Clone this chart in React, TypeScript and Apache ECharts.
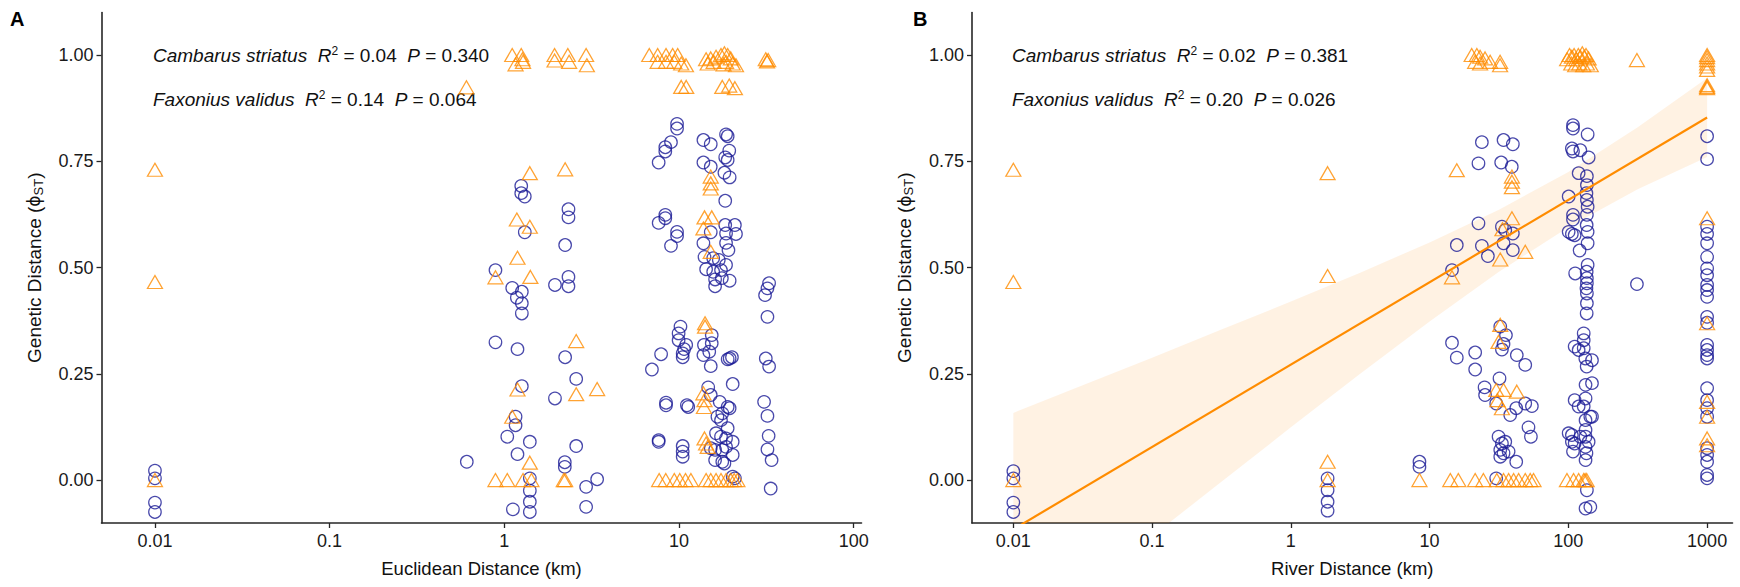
import React, { useEffect, useRef } from "react";
import * as echarts from "echarts";

// ---- Euclidean distance panel (A): [distance km, phiST] ----
const euclidCambarus: [number, number][] = [
  [0.01, 0.022], [0.01, 0.004], [0.01, -0.053], [0.01, -0.075],
  [0.61, 0.043],
  [1.25, 0.692], [1.25, 0.675], [1.31, 0.667], [2.33, 0.637], [2.33, 0.618],
  [1.31, 0.583], [2.23, 0.553], [0.89, 0.494], [1.95, 0.459], [2.33, 0.478],
  [2.33, 0.456], [1.11, 0.452], [1.26, 0.443], [1.18, 0.429], [1.26, 0.416],
  [1.26, 0.392], [0.89, 0.324], [1.19, 0.308], [2.23, 0.289], [2.58, 0.238],
  [1.26, 0.221], [1.95, 0.192], [1.16, 0.149], [1.16, 0.129], [1.04, 0.102],
  [1.4, 0.09], [2.58, 0.08], [1.19, 0.061], [2.22, 0.042], [2.22, 0.031],
  [1.4, 0.004], [3.4, 0.002], [2.94, -0.016], [1.4, -0.025], [1.4, -0.051],
  [1.12, -0.069], [1.4, -0.075], [2.94, -0.063],
  [9.75, 0.838], [9.75, 0.827], [9.0, 0.795], [8.35, 0.783], [8.35, 0.773],
  [7.65, 0.747], [13.8, 0.8], [15.2, 0.79], [18.6, 0.813], [19.0, 0.809],
  [19.4, 0.775], [18.4, 0.759], [19.0, 0.753], [13.8, 0.747], [15.2, 0.737],
  [18.2, 0.723], [19.5, 0.712], [18.4, 0.657], [8.35, 0.624], [8.35, 0.616],
  [7.65, 0.605], [9.75, 0.584], [9.75, 0.574], [9.0, 0.551], [15.2, 0.583],
  [18.4, 0.6], [20.9, 0.6], [18.6, 0.58], [21.2, 0.579], [18.6, 0.558],
  [19.2, 0.541], [13.8, 0.557], [14.0, 0.525], [15.7, 0.522], [16.9, 0.518],
  [14.3, 0.496], [15.7, 0.49], [17.4, 0.494], [18.6, 0.506], [16.1, 0.472],
  [17.6, 0.475], [19.5, 0.469], [16.1, 0.456], [32.8, 0.463], [32.1, 0.451],
  [31.1, 0.435], [32.1, 0.384], [10.2, 0.361], [9.95, 0.345], [9.95, 0.329],
  [11.0, 0.318], [10.7, 0.308], [10.5, 0.298], [10.5, 0.289], [7.9, 0.296],
  [7.0, 0.26], [15.4, 0.341], [15.4, 0.322], [13.9, 0.318], [14.9, 0.302],
  [13.8, 0.294], [15.2, 0.268], [19.0, 0.284], [19.5, 0.286], [20.1, 0.289],
  [31.4, 0.286], [32.8, 0.267], [20.3, 0.226], [14.7, 0.218], [15.2, 0.2],
  [17.1, 0.184], [19.0, 0.172], [19.5, 0.169], [16.6, 0.149], [17.7, 0.157],
  [17.4, 0.141], [19.0, 0.122], [8.43, 0.182], [8.43, 0.176], [11.1, 0.176],
  [11.3, 0.172], [30.7, 0.184], [32.1, 0.151], [7.65, 0.094], [7.65, 0.09],
  [10.5, 0.08], [10.5, 0.067], [10.5, 0.055], [16.3, 0.11], [17.4, 0.102],
  [18.6, 0.098], [20.3, 0.09], [16.1, 0.071], [17.7, 0.071], [18.6, 0.078],
  [20.3, 0.059], [16.1, 0.047], [17.7, 0.043], [18.2, 0.039], [15.2, 0.075],
  [32.6, 0.104], [32.1, 0.072], [33.9, 0.047], [20.3, 0.008], [20.9, 0.004],
  [33.5, -0.02],
];

const euclidFaxonius: [number, number][] = [
  [0.01, 0.73], [0.01, 0.466], [0.01, 0.0], [0.607, 0.924],
  [1.11, 1.0], [1.25, 1.0], [1.27, 0.99], [1.16, 0.978], [1.28, 0.984],
  [1.94, 1.0], [2.31, 1.0], [2.94, 1.0], [1.94, 0.987], [2.35, 0.984], [2.97, 0.976],
  [1.4, 0.722], [2.23, 0.731], [1.18, 0.613], [1.4, 0.596], [1.19, 0.523],
  [0.89, 0.477], [1.41, 0.478], [2.58, 0.327], [1.19, 0.213], [2.58, 0.202],
  [3.4, 0.214], [1.11, 0.149], [1.4, 0.041],
  [0.89, 0], [1.04, 0], [1.28, 0], [1.43, 0], [2.19, 0], [2.23, 0],
  [6.76, 1.0], [7.55, 1.0], [8.43, 1.0], [9.2, 1.0], [9.83, 1.0], [7.55, 0.984],
  [8.43, 0.984], [9.4, 0.984], [10.3, 0.98], [10.96, 0.976],
  [14.3, 0.99], [15.2, 0.992], [16.3, 0.996], [17.4, 1.0], [18.2, 1.004],
  [19.0, 1.0], [19.8, 0.992], [18.6, 0.984], [20.3, 0.98], [21.2, 0.976],
  [18.0, 0.978], [15.8, 0.984], [14.6, 0.98],
  [31.4, 0.99], [32.4, 0.988], [31.9, 0.985],
  [10.3, 0.925], [11.0, 0.925], [17.7, 0.925], [19.4, 0.928], [20.9, 0.922],
  [15.2, 0.714], [15.2, 0.698], [15.2, 0.686], [14.0, 0.618], [15.4, 0.618],
  [13.8, 0.592], [15.2, 0.537], [14.1, 0.369], [14.1, 0.361], [13.8, 0.204],
  [14.0, 0.188], [13.9, 0.172], [14.0, 0.098], [14.3, 0.086], [14.6, 0.078],
  [7.7, 0], [8.4, 0], [9.4, 0], [10.1, 0], [10.9, 0], [11.7, 0], [14.3, 0],
  [15.2, 0], [16.3, 0], [17.4, 0], [18.6, 0], [19.8, 0], [20.7, 0], [21.6, 0],
];

// ---- River distance panel (B): [distance km, phiST] ----
const riverCambarus: [number, number][] = [
  [0.01, 0.021], [0.01, 0.004], [0.01, -0.053], [0.01, -0.075],
  [1.84, 0.004], [1.84, -0.024], [1.84, -0.051], [1.84, -0.072],
  [8.45, 0.043], [8.45, 0.031],
  [23.8, 0.795], [34.1, 0.8], [39.8, 0.79], [22.5, 0.745], [32.8, 0.747],
  [39.1, 0.737], [22.5, 0.604], [33.2, 0.596], [35.1, 0.588], [39.8, 0.58],
  [15.7, 0.553], [23.8, 0.551], [26.3, 0.527], [34.1, 0.557], [39.8, 0.541],
  [14.5, 0.494], [14.5, 0.323], [15.7, 0.288], [21.3, 0.3], [21.3, 0.26],
  [32.3, 0.361], [35.5, 0.341], [34.1, 0.32], [33.2, 0.307], [42.5, 0.294],
  [48.9, 0.271], [31.9, 0.239], [24.9, 0.218], [25.1, 0.2], [30.2, 0.18],
  [38.1, 0.153], [42.1, 0.169], [48.9, 0.18], [54.6, 0.174], [51.6, 0.124],
  [53.7, 0.102], [31.4, 0.102], [33.2, 0.086], [35.1, 0.09], [32.3, 0.071],
  [34.1, 0.063], [37.1, 0.067], [32.3, 0.055], [42.1, 0.043], [30.2, 0.004],
  [108, 0.835], [108, 0.827], [106, 0.78], [108, 0.773], [122, 0.776],
  [118.6, 0.722], [100.5, 0.667], [108, 0.624], [108, 0.613], [100.5, 0.584],
  [106, 0.579], [111, 0.576], [120.5, 0.54], [112, 0.486], [111, 0.314],
  [118.6, 0.306], [111, 0.188], [118.6, 0.173], [100.5, 0.11], [106, 0.106],
  [111, 0.086], [108, 0.067], [122, 0.102], [106, 0.09],
  [137.7, 0.813], [140, 0.759], [136, 0.715], [136, 0.694], [135, 0.675],
  [136, 0.659], [137.7, 0.643], [136, 0.624], [135.5, 0.6], [137.7, 0.584],
  [137.7, 0.557], [137.7, 0.506], [135.5, 0.49], [136, 0.475], [136, 0.463],
  [135, 0.451], [136, 0.439], [136, 0.416], [135.5, 0.392], [129, 0.345],
  [129, 0.329], [129, 0.31], [132.5, 0.286], [148, 0.282], [135.5, 0.267],
  [148, 0.228], [133, 0.224], [133, 0.192], [129, 0.173], [144, 0.149],
  [148, 0.149], [133, 0.141], [133, 0.118], [133, 0.102], [140, 0.09],
  [133, 0.078], [135, 0.063], [133, 0.047], [136, -0.024], [133, -0.067],
  [144, -0.063],
  [312, 0.461],
  [1000, 0.809], [1000, 0.755], [1000, 0.596], [1000, 0.579], [1000, 0.557],
  [1000, 0.525], [1000, 0.498], [1000, 0.482], [1000, 0.459], [1000, 0.447],
  [1000, 0.431], [1000, 0.384], [1000, 0.37], [1000, 0.318], [1000, 0.306],
  [1000, 0.294], [1000, 0.286], [1000, 0.216], [1000, 0.188], [1000, 0.169],
  [1000, 0.149], [1000, 0.075], [1000, 0.059], [1000, 0.043], [1000, 0.012],
  [1000, 0.004],
];

const riverFaxonius: [number, number][] = [
  [0.01, 0.73], [0.01, 0.466], [0.01, 0.0],
  [1.84, 0.722], [1.84, 0.48], [1.84, 0.043], [1.84, 0.0], [8.45, 0],
  [20.1, 1.0], [21.9, 1.0], [23.1, 0.996], [25.1, 0.992], [21.3, 0.984],
  [23.1, 0.98], [27.3, 0.984], [32.2, 0.984], [32.2, 0.976],
  [15.7, 0.729], [39.2, 0.714], [39.2, 0.702], [39.2, 0.689], [39.2, 0.616],
  [33.5, 0.59], [48.9, 0.537], [32.3, 0.519], [14.5, 0.477], [32.3, 0.365],
  [31.4, 0.325], [30.2, 0.212], [34.1, 0.212], [42.5, 0.208], [30.8, 0.188],
  [33.2, 0.169],
  [14.1, 0], [16.1, 0], [21.3, 0], [24.4, 0], [30.5, 0], [34.1, 0], [37.1, 0],
  [40.3, 0], [43.8, 0], [48.9, 0], [53.1, 0], [56.1, 0],
  [97.7, 0], [109, 0], [118.6, 0], [129, 0], [132, 0], [135.5, 0],
  [98, 0.99], [102, 1.0], [106, 0.996], [110, 1.0], [114, 0.99], [118, 1.0],
  [122, 0.996], [126, 1.004], [130, 0.996], [134, 1.0], [140, 0.992],
  [105, 0.98], [112, 0.976], [120, 0.98], [128, 0.976], [136, 0.98], [145, 0.976],
  [312, 0.988],
  [1000, 1.0], [1000, 0.995], [1000, 0.988], [1000, 0.98], [1000, 0.973],
  [1000, 0.965], [1000, 0.929], [1000, 0.925], [1000, 0.922], [1000, 0.616],
  [1000, 0.369], [1000, 0.184], [1000, 0.149], [1000, 0.098], [1000, 0.082],
];

// Faxonius validus fit against river distance, with its confidence band
const fitX = [0.01, 1000];
const fitY = [-0.116, 0.853];
const bandX = [0.01, 0.0316, 0.1, 0.316, 1, 3.16, 10, 31.6, 100, 316, 1000];
const bandUpper = [0.158, 0.223, 0.288, 0.354, 0.42, 0.488, 0.559, 0.636, 0.725, 0.83, 0.946];
const bandLower = [-0.39, -0.261, -0.132, -0.004, 0.124, 0.25, 0.373, 0.49, 0.595, 0.684, 0.76];

// Axis ticks
const euclidTicks = [0.01, 0.1, 1, 10, 100];
const euclidTickLabels = ["0.01", "0.1", "1", "10", "100"];
const riverTicks = [0.01, 0.1, 1, 10, 100, 1000];
const riverTickLabels = ["0.01", "0.1", "1", "10", "100", "1000"];
const yTicks = [0, 0.25, 0.5, 0.75, 1];
const yTickLabels = ["0.00", "0.25", "0.50", "0.75", "1.00"];

// Model statistics printed in each panel
const statsEuclid = [
  { species: "Cambarus striatus", r2: "0.04", p: "0.340" },
  { species: "Faxonius validus", r2: "0.14", p: "0.064" },
];
const statsRiver = [
  { species: "Cambarus striatus", r2: "0.02", p: "0.381" },
  { species: "Faxonius validus", r2: "0.20", p: "0.026" },
];

const ORANGE = "#FF8C00";
const NAVY = "#1b1b96";
const FONT = '"Liberation Sans", Arial, Helvetica, sans-serif';
const AXIS_COLOR = "#262626";

const labelFor = (ticks: number[], labels: string[]) => (v: number) => {
  const i = ticks.findIndex((t) => Math.abs(Math.log10(t) - Math.log10(v)) < 1e-6);
  return i >= 0 ? labels[i] : "";
};

const yLabel = (v: number) => {
  const i = yTicks.findIndex((t) => Math.abs(t - v) < 1e-6);
  return i >= 0 ? yTickLabels[i] : "";
};

function makeXAxis(gridIndex: number, min: number, max: number, ticks: number[], labels: string[], name: string) {
  return {
    type: "log",
    logBase: 10,
    gridIndex,
    min,
    max,
    name,
    nameLocation: "middle",
    nameGap: 36,
    nameTextStyle: { fontFamily: FONT, fontSize: 18.5, color: "#111" },
    axisLine: { onZero: false, lineStyle: { color: AXIS_COLOR, width: 1.6 } },
    axisTick: { customValues: ticks, length: 5, lineStyle: { color: AXIS_COLOR, width: 1.3 } },
    axisLabel: {
      customValues: ticks,
      formatter: labelFor(ticks, labels),
      fontFamily: FONT,
      fontSize: 18,
      color: "#1a1a1a",
      margin: 9,
    },
    splitLine: { show: false },
    minorTick: { show: false },
  };
}

function makeYAxis(gridIndex: number) {
  return {
    type: "value",
    gridIndex,
    min: -0.101,
    max: 1.1,
    name: "Genetic Distance ({phi|ϕ}{sub|ST})",
    nameLocation: "middle",
    nameRotate: 90,
    nameGap: 57,
    nameTextStyle: {
      fontFamily: FONT,
      fontSize: 19,
      color: "#111",
      rich: {
        phi: { fontFamily: "DejaVu Sans", fontSize: 17, color: "#111" },
        sub: { fontFamily: FONT, fontSize: 13, color: "#111", verticalAlign: "bottom", padding: [8, 0, 0, 0] },
      },
    },
    axisLine: { show: true, onZero: false, lineStyle: { color: AXIS_COLOR, width: 1.6 } },
    axisTick: { show: true, customValues: yTicks, length: 5, lineStyle: { color: AXIS_COLOR, width: 1.3 } },
    axisLabel: {
      customValues: yTicks,
      formatter: yLabel,
      fontFamily: FONT,
      fontSize: 18,
      color: "#1a1a1a",
      margin: 8,
    },
    splitLine: { show: false },
  };
}

function statText(s: { species: string; r2: string; p: string }) {
  return `{i|${s.species}}  {i|R}{sup|2}{t| = ${s.r2}}  {i|P}{t| = ${s.p}}`;
}

function statGraphics(left: number, stats: typeof statsEuclid) {
  const rows = [55, 99];
  return stats.map((s, k) => ({
    type: "text",
    x: left,
    y: rows[k],
    style: {
      text: statText(s),
      verticalAlign: "middle",
      fill: "#111",
      font: `19px ${FONT}`,
      rich: {
        i: { fontFamily: FONT, fontStyle: "italic", fontSize: 19, fill: "#111" },
        t: { fontFamily: FONT, fontSize: 19, fill: "#111" },
        sup: { fontFamily: FONT, fontSize: 12, fill: "#111", verticalAlign: "top", padding: [0, 0, 8, 0] },
      },
    },
  }));
}

function hollow(data: [number, number][], xi: number, shape: "circle" | "triangle") {
  const isTri = shape === "triangle";
  return {
    type: "scatter",
    xAxisIndex: xi,
    yAxisIndex: xi,
    data,
    symbol: shape,
    symbolSize: isTri ? [15, 13] : 12.5,
    itemStyle: {
      color: "rgba(0,0,0,0)",
      borderColor: isTri ? ORANGE : NAVY,
      borderWidth: 1.25,
    },
    emphasis: { disabled: true },
    z: isTri ? 4 : 3,
  };
}

export default function App() {
  const ref = useRef<HTMLDivElement>(null);

  useEffect(() => {
    if (!ref.current) return;
    const chart = echarts.init(ref.current, undefined, { renderer: "svg" });

    const option = {
      animation: false,
      backgroundColor: "#ffffff",
      grid: [
        { left: 101.5, top: 12.5, width: 760, height: 510.5 },
        { left: 972, top: 12.5, width: 760.5, height: 510.5 },
      ],
      xAxis: [
        makeXAxis(0, 0.004943, 110.9, euclidTicks, euclidTickLabels, "Euclidean Distance (km)"),
        makeXAxis(1, 0.005035, 1524, riverTicks, riverTickLabels, "River Distance (km)"),
      ],
      yAxis: [makeYAxis(0), makeYAxis(1)],
      series: [
        {
          type: "custom",
          xAxisIndex: 1,
          yAxisIndex: 1,
          clip: true,
          data: [[1, 0]],
          silent: true,
          z: 1,
          renderItem: (_params: any, api: any) => {
            const upper = bandX.map((x, i) => api.coord([x, bandUpper[i]]));
            const lower = bandX.map((x, i) => api.coord([x, bandLower[i]])).reverse();
            return {
              type: "polygon",
              shape: { points: upper.concat(lower) },
              style: { fill: "rgba(255,140,0,0.11)", stroke: "none" },
            };
          },
        },
        hollow(euclidCambarus, 0, "circle"),
        hollow(euclidFaxonius, 0, "triangle"),
        hollow(riverCambarus, 1, "circle"),
        hollow(riverFaxonius, 1, "triangle"),
        {
          type: "line",
          xAxisIndex: 1,
          yAxisIndex: 1,
          data: fitX.map((x, i) => [x, fitY[i]]),
          showSymbol: false,
          symbol: "none",
          clip: true,
          lineStyle: { color: ORANGE, width: 2.2 },
          z: 5,
          silent: true,
        },
      ],
      graphic: [
        {
          type: "text",
          left: 10,
          top: 9,
          style: { text: "A", font: 'bold 20px "Liberation Sans", Arial, sans-serif', fill: "#000" },
        },
        {
          type: "text",
          left: 913,
          top: 9,
          style: { text: "B", font: 'bold 20px "Liberation Sans", Arial, sans-serif', fill: "#000" },
        },
        ...statGraphics(153, statsEuclid),
        ...statGraphics(1012, statsRiver),
      ],
    };

    chart.setOption(option as any);
    return () => chart.dispose();
  }, []);

  return (
    <div
      ref={ref}
      style={{ position: "absolute", left: 0, top: 0, width: 1740, height: 587, background: "#fff" }}
    />
  );
}
